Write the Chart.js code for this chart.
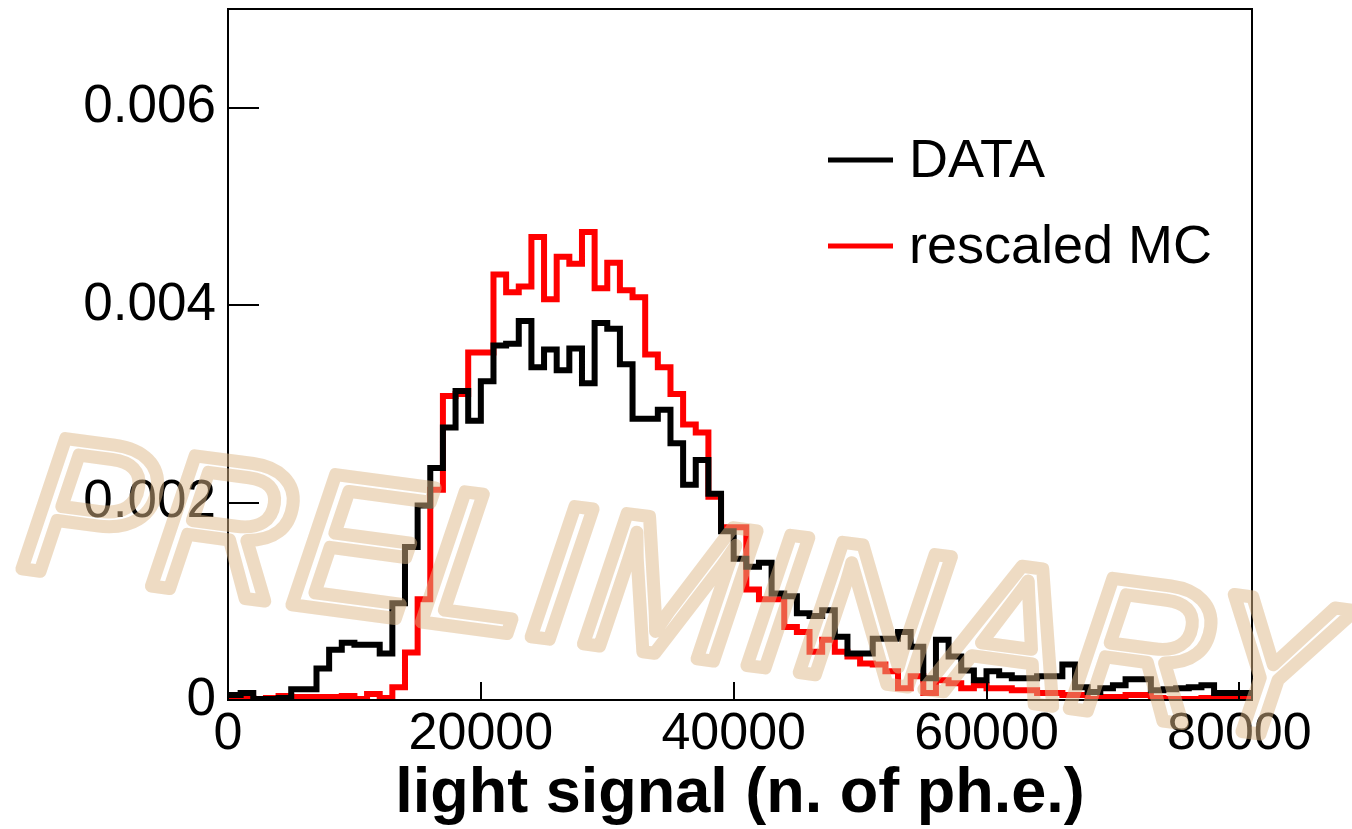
<!DOCTYPE html>
<html>
<head>
<meta charset="utf-8">
<script src="https://cdn.jsdelivr.net/npm/chart.js@4.4.1/dist/chart.umd.min.js"></script>
<style>
  html, body { margin: 0; padding: 0; background: #ffffff; }
  #wrap { width: 1352px; height: 829px; position: relative; }
</style>
</head>
<body>
<div id="wrap"><canvas id="c" width="1352" height="829"></canvas></div>
<script>
// ---- data (bin width 1000 ph.e., 81 bins from 0 to 81000) ----
const binWidth = 1000;
const xMin = 0;
const xMax = 81000;

// DATA histogram (normalised), one value per bin
const dataValues = [
  0.00005, 0.00007, 0.00001, 0.00001, 0.00002, 0.00011, 0.00011, 0.00032, 0.00051, 0.00058,
  0.00056, 0.00056, 0.00047, 0.00098, 0.00155, 0.00197, 0.00235, 0.00276, 0.00313, 0.00283,
  0.00323, 0.00359, 0.00361, 0.00384, 0.00337, 0.00355, 0.00334, 0.00356, 0.00321, 0.00382,
  0.00376, 0.00340, 0.00285, 0.00285, 0.00294, 0.00260, 0.00218, 0.00243, 0.00209, 0.00171,
  0.00143, 0.00135, 0.00139, 0.00108, 0.00105, 0.00088, 0.00085, 0.00091, 0.00064, 0.00047,
  0.00047, 0.00062, 0.00062, 0.00069, 0.00054, 0.00022, 0.00061, 0.00044, 0.00030, 0.00020,
  0.00029, 0.00025, 0.00022, 0.00022, 0.00024, 0.00024, 0.00036, 0.00013, 0.00008, 0.00012,
  0.00015, 0.00021, 0.00021, 0.00010, 0.00011, 0.00012, 0.00013, 0.00015, 0.00007, 0.00007,
  0.00007
];

// rescaled MC histogram, one value per bin
const mcValues = [
  0.00001, 0.00002, 0.00000, 0.00002, 0.00004, 0.00003, 0.00003, 0.00003, 0.00003, 0.00004,
  0.00001, 0.00006, 0.00002, 0.00013, 0.00048, 0.00102, 0.00213, 0.00308, 0.00310, 0.00352,
  0.00352, 0.00431, 0.00413, 0.00419, 0.00469, 0.00406, 0.00449, 0.00442, 0.00474, 0.00417,
  0.00443, 0.00415, 0.00408, 0.00350, 0.00337, 0.00310, 0.00279, 0.00271, 0.00206, 0.00175,
  0.00175, 0.00112, 0.00102, 0.00102, 0.00074, 0.00069, 0.00049, 0.00061, 0.00049, 0.00044,
  0.00037, 0.00036, 0.00029, 0.00012, 0.00024, 0.00007, 0.00020, 0.00017, 0.00012, 0.00015,
  0.00012, 0.00012, 0.00010, 0.00010, 0.00007, 0.00007, 0.00005, 0.00005, 0.00001, 0.00003,
  0.00003, 0.00005, 0.00005, 0.00002, 0.00001, 0.00001, 0.00001, 0.00002, 0.00002, 0.00001,
  0.00001
];

const seriesNames = ['DATA', 'rescaled MC'];
const seriesColors = ['#000000', '#ff0000'];
const xTicks = [0, 20000, 40000, 60000, 80000];
const yTicks = [0, 0.002, 0.004, 0.006];
const yMax = 0.007;
const xTitle = 'light signal (n. of ph.e.)';
const watermark = 'PRELIMINARY';

// bin low edges (categories)
const binLow = dataValues.map((_, i) => xMin + i * binWidth);

function toSteps(vals) {
  const pts = vals.map((v, i) => ({ x: binLow[i], y: v }));
  pts.push({ x: binLow[vals.length - 1] + binWidth, y: vals[vals.length - 1] });
  return pts;
}

const FONT = "'Liberation Sans', Arial, Helvetica, sans-serif";

// frame, inward ticks, legend, watermark
const decor = {
  id: 'decor',
  afterDatasetsDraw(chart) {
    const { ctx, chartArea: a, scales: { x, y } } = chart;
    ctx.save();
    ctx.strokeStyle = '#000';
    ctx.lineWidth = 2;
    ctx.lineCap = 'butt';
    ctx.strokeRect(a.left, a.top, a.right - a.left, a.bottom - a.top);
    ctx.beginPath();
    yTicks.forEach(v => {
      const py = Math.round(y.getPixelForValue(v));
      ctx.moveTo(a.left, py); ctx.lineTo(a.left + 31, py);
    });
    xTicks.forEach(v => {
      const px = Math.round(x.getPixelForValue(v));
      ctx.moveTo(px, a.bottom); ctx.lineTo(px, a.bottom - 18);
    });
    ctx.stroke();

    // legend
    const legY = [160, 246];
    ctx.font = '54px ' + FONT;
    ctx.textAlign = 'left';
    ctx.textBaseline = 'middle';
    seriesNames.forEach((n, i) => {
      ctx.strokeStyle = seriesColors[i];
      ctx.lineWidth = 5;
      ctx.beginPath();
      ctx.moveTo(828, legY[i]); ctx.lineTo(893, legY[i]);
      ctx.stroke();
      ctx.fillStyle = '#000';
      ctx.fillText(n, 909, legY[i] + 2);
    });
    ctx.restore();
  },
  afterDraw(chart) {
    const { ctx } = chart;
    ctx.save();
    ctx.translate(16, 568);
    ctx.rotate(7.6 * Math.PI / 180);
    ctx.font = 'italic 196px ' + FONT;
    ctx.textAlign = 'left';
    ctx.textBaseline = 'alphabetic';
    ctx.lineWidth = 13;
    ctx.lineJoin = 'round';
    ctx.strokeStyle = 'rgba(222,184,135,0.5)';
    ctx.strokeText(watermark, 0, 0);
    ctx.restore();
  }
};

new Chart(document.getElementById('c'), {
  type: 'line',
  data: {
    datasets: [
      {
        label: seriesNames[0],
        data: toSteps(dataValues),
        borderColor: seriesColors[0],
        borderWidth: 6,
        stepped: 'before',
        pointRadius: 0,
        fill: false,
        borderJoinStyle: 'miter',
        borderCapStyle: 'butt',
        order: 0
      },
      {
        label: seriesNames[1],
        data: toSteps(mcValues),
        borderColor: seriesColors[1],
        borderWidth: 6,
        stepped: 'before',
        pointRadius: 0,
        fill: false,
        borderJoinStyle: 'miter',
        borderCapStyle: 'butt',
        order: 1
      }
    ]
  },
  options: {
    responsive: false,
    animation: false,
    devicePixelRatio: 1,
    layout: { padding: { top: 9, right: 100, left: 0, bottom: 0 } },
    plugins: { legend: { display: false }, tooltip: { enabled: false } },
    scales: {
      x: {
        type: 'linear',
        min: xMin,
        max: xMax,
        afterFit: s => { s.height = 129; s.paddingLeft = 0; s.paddingRight = 0; },
        afterBuildTicks: s => { s.ticks = xTicks.map(v => ({ value: v })); },
        grid: { display: false, drawTicks: false },
        border: { display: false },
        ticks: {
          autoSkip: false,
          maxRotation: 0,
          padding: 3,
          color: '#000',
          font: { family: FONT, size: 52 },
          callback: v => String(v)
        },
        title: {
          display: true,
          text: xTitle,
          color: '#000',
          font: { family: FONT, size: 63, weight: 'bold', lineHeight: 1.1 },
          padding: { top: 0, bottom: 0 }
        }
      },
      y: {
        type: 'linear',
        min: 0,
        max: yMax,
        afterFit: s => { s.width = 228; s.paddingTop = 0; s.paddingBottom = 0; },
        afterBuildTicks: s => { s.ticks = yTicks.map(v => ({ value: v })); },
        grid: { display: false, drawTicks: false },
        border: { display: false },
        ticks: {
          padding: 12,
          color: '#000',
          font: { family: FONT, size: 53 },
          callback: v => (v === 0 ? '0' : v.toFixed(3))
        }
      }
    }
  },
  plugins: [decor]
});
</script>
</body>
</html>
